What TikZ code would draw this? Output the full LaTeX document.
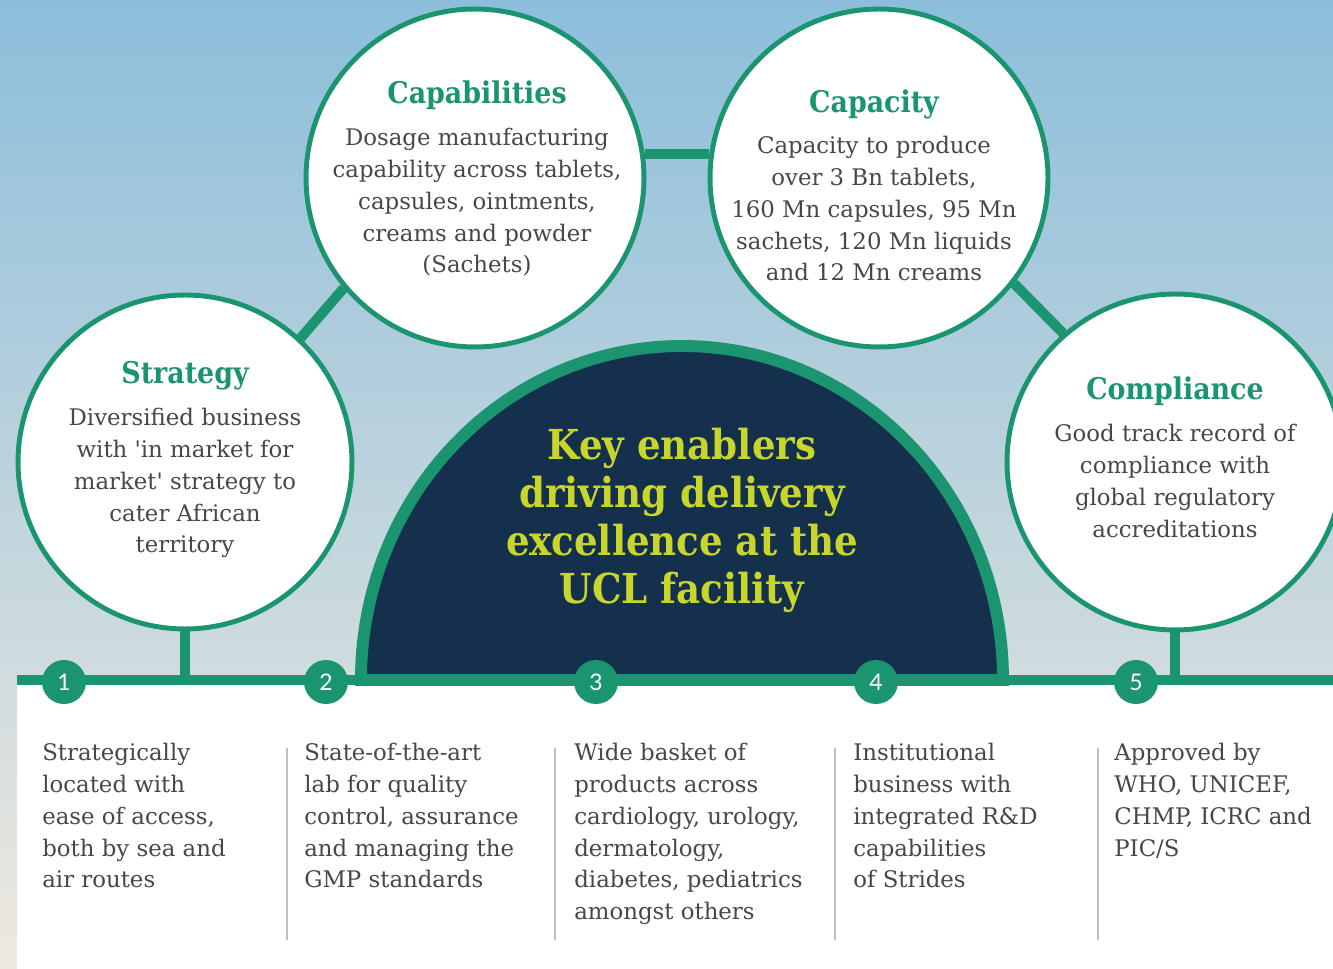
\documentclass[tikz,border=0pt]{standalone}
\usepackage{fontspec}
\setmainfont{DejaVu Serif}
\newfontfamily\headfont{DejaVu Serif Condensed}
\newfontfamily\numfont{Lato}
\usetikzlibrary{positioning,calc}

\definecolor{ucgreen}{HTML}{1B9470}
\definecolor{ucnavy}{HTML}{15304D}
\definecolor{ucyellow}{HTML}{C8D62C}
\definecolor{uctext}{HTML}{474747}
\definecolor{skytop}{HTML}{8CBEDB}
\definecolor{skymid}{HTML}{B8D5E5}
\definecolor{skylow}{HTML}{EEE9DF}

\tikzset{
  bubble/.style={circle, draw=ucgreen, line width=2.8pt, fill=white, inner sep=0pt},
  link/.style={draw=ucgreen, line width=5.7pt},
  numdot/.style={circle, fill=ucgreen, minimum size=0.88cm, inner sep=0pt, text=white,
    font=\numfont\fontsize{13}{13}\selectfont},
  bubtitle/.style={anchor=base, inner sep=0pt, text=ucgreen,
    font=\headfont\bfseries\fontsize{17}{20}\selectfont},
  bubtext/.style={anchor=north, align=center, inner sep=0pt, text=uctext,
    font=\fontsize{13}{18.1}\selectfont},
  coltext/.style={anchor=north west, align=left, inner sep=0pt, text=uctext,
    font=\fontsize{13}{18.1}\selectfont},
  divider/.style={draw=black!25, line width=0.8pt},
}

\begin{document}
\begin{tikzpicture}[x=0.02cm, y=-0.02cm]
	\useasboundingbox (0,0) rectangle (1333,969);
	% sky and white panel
	\shade[top color=skytop, middle color=skymid, bottom color=skylow] (0,0) rectangle (1333,969);
	\fill[white] (17,680) rectangle (1333,969);

	% the four bubbles
	\node[bubble, minimum size=6.68cm] (strat) at (185,462) {};
	\node[bubble, minimum size=6.76cm] (capab) at (475,178) {};
	\node[bubble, minimum size=6.76cm] (capac) at (879,178) {};
	\node[bubble, minimum size=6.72cm] (compl) at (1175,462) {};

	% base line
	\coordinate (lineL) at (17,680);
	\coordinate (lineR) at (1333,680);

	% links
	\draw[link] (strat.47) -- (capab.220);
	\draw[link] (capab.8) -- (capac.172);
	\draw[link] (capac.-38) -- (compl.131);
	\draw[link] (strat.south) -- (strat.south |- lineL);
	\draw[link] (compl.south) -- (compl.south |- lineL);

	% dome
	\draw[ucgreen, line width=6.8pt, fill=ucnavy] (361,680) arc[start angle=180, end angle=360, x radius=321, y radius=334] -- cycle;
	\node[anchor=north, align=center, inner sep=0pt, text=ucyellow,
	  font=\headfont\bfseries\fontsize{23.5}{27.2}\selectfont] (keytxt) at (682,428)
	  {Key enablers\\driving delivery\\excellence at the\\UCL facility};

	\draw[link] (lineL) -- (lineR);

	% bubble texts
	\node[bubtitle] (strattl) at (185,384) {Strategy};
	\node[bubtext] (stratbd) at (185,408) {Diversified business\\with \textquotesingle in market for\\market\textquotesingle{} strategy to\\cater African\\territory};
	\node[bubtitle] (capabtl) at (477,104) {Capabilities};
	\node[bubtext] (capabbd) at (477,128) {Dosage manufacturing\\capability across tablets,\\capsules, ointments,\\creams and powder\\(Sachets)};
	\node[bubtitle] (capactl) at (874,113) {Capacity};
	\node[bubtext] (capacbd) at (874,136) {Capacity to produce\\over 3 Bn tablets,\\160 Mn capsules, 95 Mn\\sachets, 120 Mn liquids\\and 12 Mn creams};
	\node[bubtitle] (compltl) at (1175,400) {Compliance};
	\node[bubtext] (complbd) at (1175,424) {Good track record of\\compliance with\\global regulatory\\accreditations};

	% numbered dots
	\node[numdot] (n1) at (64,682) {1};
	\node[numdot] (n2) at (326,682) {2};
	\node[numdot] (n3) at (596,682) {3};
	\node[numdot] (n4) at (876,682) {4};
	\node[numdot] (n5) at (1136,682) {5};

	% columns
	\draw[divider] (287,748) -- (287,940);
	\draw[divider] (555,748) -- (555,940);
	\draw[divider] (835,748) -- (835,940);
	\draw[divider] (1098,748) -- (1098,940);
	\node[coltext] (col1) at (42,743) {Strategically\\located with\\ease of access,\\both by sea and\\air routes};
	\node[coltext] (col2) at (304,743) {State-of-the-art\\lab for quality\\control, assurance\\and managing the\\GMP standards};
	\node[coltext] (col3) at (574,743) {Wide basket of\\products across\\cardiology, urology,\\dermatology,\\diabetes, pediatrics\\amongst others};
	\node[coltext] (col4) at (853,743) {Institutional\\business with\\integrated R\&D\\capabilities\\of Strides};
	\node[coltext] (col5) at (1114,743) {Approved by\\WHO, UNICEF,\\CHMP, ICRC and\\PIC/S};
\end{tikzpicture}
\end{document}
